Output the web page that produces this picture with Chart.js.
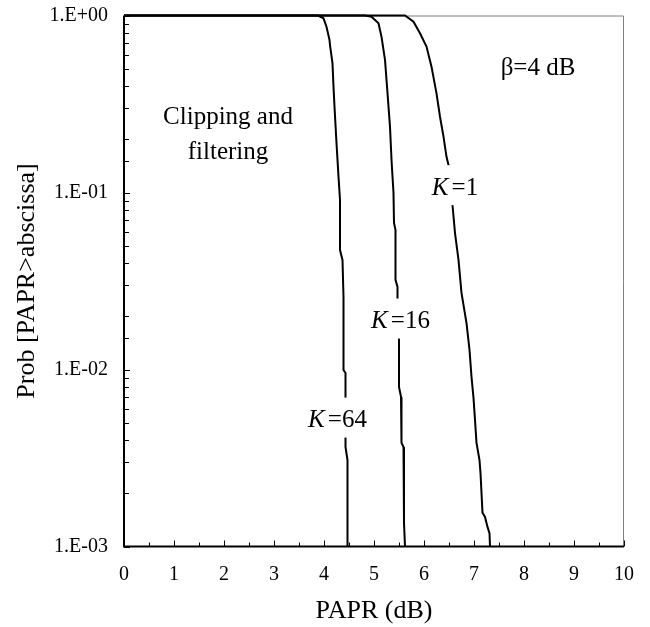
<!DOCTYPE html>
<html>
<head>
<meta charset="utf-8">
<script src="https://cdn.jsdelivr.net/npm/chart.js@4"></script>
<style>
  html, body { margin: 0; padding: 0; background: #fff; }
  #wrap { width: 650px; height: 627px; position: relative; }
</style>
</head>
<body>
<div id="wrap"><canvas id="c"></canvas></div>
<script>
// CCDF of the PAPR after clipping and filtering (beta = 4 dB)
const paprK64 = [0, 3.88, 3.99, 4.05, 4.11, 4.12, 4.17, 4.19, 4.21, 4.25, 4.29, 4.32, 4.32, 4.37, 4.39, 4.39, 4.43, 4.43, 4.47, 4.47];
const probK64 = [1, 1, 0.964, 0.864, 0.727, 0.681, 0.537, 0.396, 0.305, 0.190, 0.123, 0.0907, 0.0473, 0.0416, 0.0257, 0.00994, 0.00955, 0.00365, 0.00308, 0.001];

const paprK16 = [0, 4.82, 4.95, 5.09, 5.15, 5.22, 5.27, 5.32, 5.35, 5.39, 5.40, 5.43, 5.43, 5.47, 5.47, 5.50, 5.50, 5.54, 5.55, 5.59, 5.60, 5.62];
const probK16 = [1, 1, 0.984, 0.904, 0.759, 0.561, 0.365, 0.235, 0.153, 0.0994, 0.0673, 0.0614, 0.0321, 0.0293, 0.0247, 0.0153, 0.00796, 0.00700, 0.00385, 0.00365, 0.00136, 0.001];

const paprK1 = [0, 5.62, 5.79, 5.92, 6.05, 6.15, 6.25, 6.32, 6.39, 6.45, 6.49, 6.57, 6.62, 6.69, 6.75, 6.85, 6.91, 6.95, 6.99, 7.02, 7.05, 7.11, 7.13, 7.17, 7.22, 7.27, 7.31, 7.32];
const probK1 = [1, 1, 0.923, 0.793, 0.667, 0.514, 0.363, 0.268, 0.207, 0.159, 0.143, 0.0850, 0.0590, 0.0416, 0.0271, 0.0183, 0.0129, 0.00908, 0.00691, 0.00519, 0.00385, 0.00308, 0.00260, 0.00155, 0.00147, 0.00129, 0.00119, 0.001];

const xTickValues = [0, 1, 2, 3, 4, 5, 6, 7, 8, 9, 10];
const yTickValues = [1, 0.1, 0.01, 0.001];
const yTickLabels = ['1.E+00', '1.E-01', '1.E-02', '1.E-03'];

const seriesNames = ['K =64', 'K =16', 'K =1'];

const SERIF = "'Liberation Serif', 'Times New Roman', serif";

function toPoints(xs, ys) {
  return xs.map((x, i) => ({ x: x, y: ys[i] }));
}

function lineSet(label, xs, ys) {
  return {
    label: label,
    data: toPoints(xs, ys),
    borderColor: '#000',
    borderWidth: 2,
    pointRadius: 0,
    tension: 0,
    fill: false,
    clip: false
  };
}

// Axis frame and inward tick marks
const framePlugin = {
  id: 'frame',
  beforeDatasetsDraw(chart) {
    const { ctx, chartArea: a, scales } = chart;
    ctx.save();
    // thin grey top/right border
    ctx.strokeStyle = '#808080';
    ctx.lineWidth = 1;
    ctx.beginPath();
    ctx.moveTo(a.left, a.top + 0.5);
    ctx.lineTo(a.right - 0.5, a.top + 0.5);
    ctx.lineTo(a.right - 0.5, a.bottom);
    ctx.stroke();

    ctx.strokeStyle = '#000';
    ctx.lineWidth = 2;
    ctx.beginPath();
    ctx.moveTo(a.left, a.top);
    ctx.lineTo(a.left, a.bottom);
    ctx.lineTo(a.right, a.bottom);
    ctx.stroke();

    ctx.lineWidth = 1;
    ctx.beginPath();
    scales.y.ticks.forEach(t => {
      const py = Math.round(scales.y.getPixelForValue(t.value)) + 0.5;
      const major = Math.abs(Math.log10(t.value) - Math.round(Math.log10(t.value))) < 1e-6;
      const len = major ? 6 : 5;
      ctx.moveTo(a.left, py);
      ctx.lineTo(a.left + len, py);
    });
    scales.x.ticks.forEach(t => {
      const px = Math.round(scales.x.getPixelForValue(t.value)) + 0.5;
      const major = Math.abs(t.value - Math.round(t.value)) < 1e-6;
      const len = major ? 6 : 4;
      ctx.moveTo(px, a.bottom);
      ctx.lineTo(px, a.bottom - len);
    });
    ctx.stroke();
    ctx.restore();
  }
};

// Text notes inside the plot and curve labels on white boxes
const notesPlugin = {
  id: 'notes',
  afterDatasetsDraw(chart) {
    const { ctx, scales } = chart;
    const sx = v => scales.x.getPixelForValue(v);
    const sy = v => scales.y.getPixelForValue(v);
    ctx.save();
    ctx.fillStyle = '#000';
    ctx.textBaseline = 'middle';
    ctx.textAlign = 'center';
    ctx.font = '25px ' + SERIF;
    ctx.fillText('Clipping and', sx(2.08), sy(0.264));
    ctx.fillText('filtering', sx(2.08), sy(0.169));
    ctx.fillText('\u03B2=4 dB', sx(8.28), sy(0.505));

    const curveLabels = [
      { name: seriesNames[2], x: 6.62, p: 0.110 },
      { name: seriesNames[1], x: 5.53, p: 0.0194 },
      { name: seriesNames[0], x: 4.27, p: 0.00535 }
    ];
    curveLabels.forEach(l => {
      const parts = l.name.split(' ');
      const cx = sx(l.x), cy = sy(l.p);
      ctx.font = 'italic 25px ' + SERIF;
      const wK = ctx.measureText(parts[0]).width;
      ctx.font = '25px ' + SERIF;
      const wR = ctx.measureText(parts[1]).width;
      const gap = 3;
      const total = wK + gap + wR;
      const x0 = cx - total / 2;
      ctx.fillStyle = '#fff';
      ctx.fillRect(x0 - 2, cy - 20, total + 4, 40);
      ctx.fillStyle = '#000';
      ctx.textAlign = 'left';
      ctx.font = 'italic 25px ' + SERIF;
      ctx.fillText(parts[0], x0, cy + 3);
      ctx.font = '25px ' + SERIF;
      ctx.fillText(parts[1], x0 + wK + gap, cy + 3);
    });
    ctx.restore();
  }
};

new Chart(document.getElementById('c'), {
  type: 'line',
  data: {
    datasets: [
      lineSet(seriesNames[0], paprK64, probK64),
      lineSet(seriesNames[1], paprK16, probK16),
      lineSet(seriesNames[2], paprK1, probK1)
    ]
  },
  options: {
    responsive: true,
    maintainAspectRatio: false,
    animation: false,
    devicePixelRatio: 1,
    layout: { padding: { left: 0, top: 15.5, right: 26, bottom: 0 } },
    plugins: {
      legend: { display: false },
      tooltip: { enabled: false }
    },
    scales: {
      x: {
        type: 'linear',
        min: 0,
        max: 10,
        border: { display: false },
        grid: { display: false, drawTicks: false },
        ticks: {
          stepSize: 0.5,
          autoSkip: false,
          maxRotation: 0,
          padding: 16,
          color: '#000',
          font: { family: SERIF, size: 20 },
          callback: v => xTickValues.includes(v) ? String(v) : ''
        },
        title: {
          display: true,
          text: 'PAPR (dB)',
          color: '#000',
          font: { family: SERIF, size: 26 },
          padding: { top: 0, bottom: 0 }
        },
        afterFit: s => { s.height = 80.5; s.paddingLeft = 0; s.paddingRight = 0; }
      },
      y: {
        type: 'logarithmic',
        min: 0.001,
        max: 1,
        border: { display: false },
        grid: { display: false, drawTicks: false },
        ticks: {
          autoSkip: false,
          padding: 16,
          color: '#000',
          font: { family: SERIF, size: 20 },
          callback: v => {
            const i = yTickValues.findIndex(t => Math.abs(t - v) / t < 1e-6);
            return i >= 0 ? yTickLabels[i] : '';
          }
        },
        title: {
          display: true,
          text: 'Prob [PAPR>abscissa]',
          color: '#000',
          font: { family: SERIF, size: 26 },
          padding: { top: 12, bottom: 0 }
        },
        afterFit: s => { s.width = 124; s.paddingTop = 0; s.paddingBottom = 0; }
      }
    }
  },
  plugins: [framePlugin, notesPlugin]
});
</script>
</body>
</html>
